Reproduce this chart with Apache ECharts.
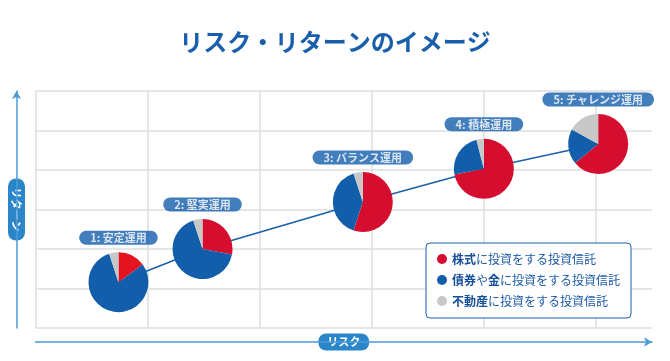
<!DOCTYPE html>
<html><head><meta charset="utf-8">
<script src="https://cdn.jsdelivr.net/npm/echarts@6/dist/echarts.min.js"></script>
<style>html,body{margin:0;padding:0;background:#fff}#c{width:670px;height:361px}</style>
</head><body><div id="c"></div>
<script>
const titleText = 'リスク・リターンのイメージ';
const xAxisName = 'リスク';
const yAxisName = 'リターン';
const planLabels = ['1: 安定運用', '2: 堅実運用', '3: バランス運用', '4: 積極運用', '5: チャレンジ運用'];
const planRisk = [0.74, 1.49, 2.92, 4.0, 5.02];
const planReturn = [1.16, 2.0, 3.19, 4.03, 4.66];
const assetNames = ['株式', '債券や金', '不動産'];
const legendSuffix = 'に投資をする投資信託';
const stockShare = [15, 28, 55, 72, 64];
const bondShare = [80, 67, 40, 24, 19];
const realEstateShare = [5, 5, 5, 4, 17];

const FONT = '"Noto Sans CJK JP", "Noto Sans", sans-serif';
const RED = '#d50d2e', RED1 = '#e3141f', BLUE = '#135eab', GREY = '#c8c8c8';
const assetColors = [RED, BLUE, GREY];
const AXIS_BLUE = '#4b9bd5', PILL_BLUE = '#2a86c9';

const chart = echarts.init(document.getElementById('c'));
const pill = {
  color: '#fff', fontSize: 11, fontWeight: 'bold', fontFamily: FONT,
  backgroundColor: PILL_BLUE, borderRadius: 8, lineHeight: 12,
  align: 'center', verticalAlign: 'middle'
};
const points = planRisk.map((x, i) => [x, planReturn[i]]);

function legendFmt(name) {
  const parts = name.split('や');
  const head = parts.map(p => '{b|' + p + '}').join('{n|や}');
  return head + '{n|' + legendSuffix + '}';
}

const lineSeries = {
  type: 'line', data: points, symbol: 'none', z: 1, silent: true,
  lineStyle: { color: '#1a5fac', width: 1.5 }
};
const labelSeries = {
  type: 'scatter', data: points.map((p, i) => ({ value: p, name: planLabels[i] })),
  symbolSize: 1, itemStyle: { color: 'transparent' }, z: 10, silent: true,
  label: {
    show: true, position: 'top', distance: 37, formatter: '{b}',
    color: '#fff', fontSize: 11, fontWeight: 'bold', fontFamily: FONT,
    backgroundColor: BLUE, borderRadius: 8, lineHeight: 11, padding: [2, 11, 1, 11]
  }
};

chart.setOption({
  animation: false,
  textStyle: { fontFamily: FONT },
  title: {
    text: titleText, left: 'center', top: 30, padding: 0,
    textStyle: { fontSize: 24, fontWeight: 'bold', color: '#1a5fac', fontFamily: FONT }
  },
  grid: { left: 34, right: 18, top: 91, bottom: 33 },
  xAxis: {
    type: 'value', min: 0, max: 5.5, interval: 1, offset: 14,
    axisLine: { show: true, onZero: false, symbol: ['none', 'arrow'], symbolSize: [7, 8],
      lineStyle: { color: AXIS_BLUE, width: 1.5 } },
    axisTick: { show: false }, axisLabel: { show: false },
    splitLine: { show: true, showMaxLine: false, lineStyle: { color: '#dedede', width: 1.5 } },
    name: xAxisName, nameLocation: 'middle', nameGap: 0,
    nameTextStyle: Object.assign({}, pill, { padding: [3, 9, 2, 9] })
  },
  yAxis: {
    type: 'value', min: 0, max: 6, interval: 1, offset: 19,
    axisLine: { show: true, onZero: false, symbol: ['none', 'arrow'], symbolSize: [7, 8],
      lineStyle: { color: AXIS_BLUE, width: 1.5 } },
    axisTick: { show: false }, axisLabel: { show: false },
    splitLine: { show: true, lineStyle: { color: '#dedede', width: 1.5 } },
    name: yAxisName, nameLocation: 'middle', nameGap: 0, nameRotate: -90,
    nameTextStyle: Object.assign({}, pill, { padding: [3, 9, 2, 9] })
  },
  legend: {
    orient: 'vertical', left: 426, top: 243,
    padding: [9, 11, 10, 11], itemGap: 7,
    backgroundColor: '#fff', borderColor: '#1a5fac', borderWidth: 1, borderRadius: 4,
    icon: 'circle', itemWidth: 10, itemHeight: 10,
    data: assetNames.map((n, i) => ({ name: n, itemStyle: { color: assetColors[i] } })),
    formatter: legendFmt,
    textStyle: {
      fontFamily: FONT, fontSize: 12, lineHeight: 14, color: '#1b5aa8',
      rich: {
        b: { fontFamily: FONT, fontSize: 12, lineHeight: 14, fontWeight: 'bold', color: '#164f99' },
        n: { fontFamily: FONT, fontSize: 12, lineHeight: 14, color: '#1b5aa8' }
      }
    }
  },
  series: [lineSeries, labelSeries]
});

const pies = points.map((p, i) => {
  const c = chart.convertToPixel({ gridIndex: 0 }, p);
  const vals = [stockShare[i], bondShare[i], realEstateShare[i]];
  return {
    type: 'pie', radius: 30, center: c, startAngle: 90, clockwise: true, z: 3,
    silent: true, label: { show: false }, labelLine: { show: false },
    data: assetNames.map((n, k) => ({
      name: n, value: vals[k],
      itemStyle: { color: (k === 0 && i === 0) ? RED1 : assetColors[k] }
    }))
  };
});
chart.setOption({ series: [lineSeries, labelSeries].concat(pies) });
</script>
</body></html>
